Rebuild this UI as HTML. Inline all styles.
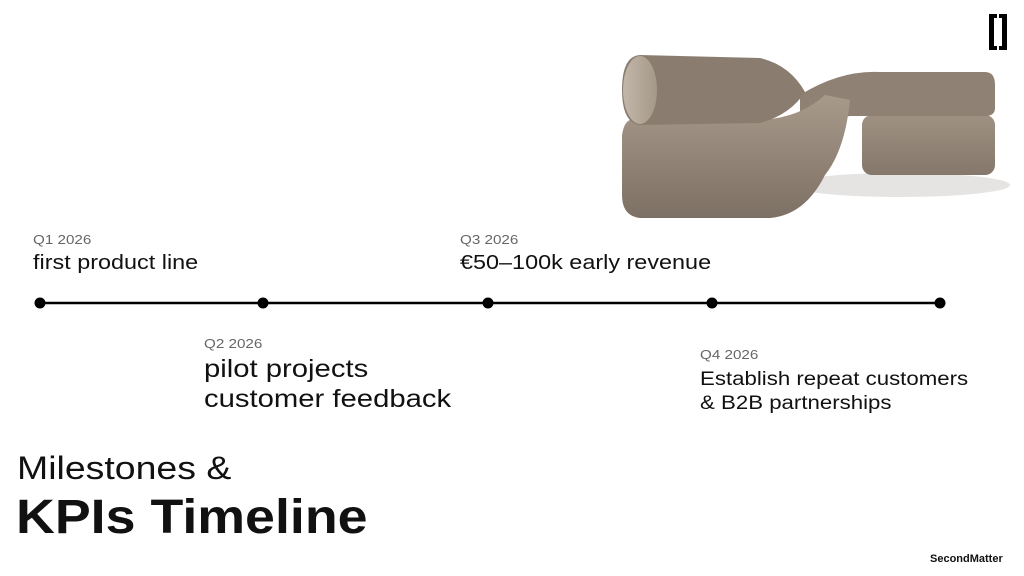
<!DOCTYPE html>
<html><head><style>
body{margin:0;width:1024px;height:576px;background:#fff;position:relative;overflow:hidden;font-family:"Liberation Sans",sans-serif;color:#111}
.t{position:absolute;white-space:nowrap;transform-origin:0 0;transform:scaleX(1.17)}
.q{font-size:13px;color:#666}
</style></head><body>
<svg width="1024" height="576" style="position:absolute;left:0;top:0">
<defs>
<linearGradient id="g1" x1="0" y1="0" x2="0" y2="1"><stop offset="0" stop-color="#a89a8b"/><stop offset="1" stop-color="#7d7064"/></linearGradient>
<linearGradient id="g2" x1="0" y1="0" x2="0" y2="1"><stop offset="0" stop-color="#9e9182"/><stop offset="1" stop-color="#85786b"/></linearGradient>
<linearGradient id="g3" x1="0" y1="0" x2="1" y2="0"><stop offset="0" stop-color="#c2b7aa"/><stop offset="1" stop-color="#a59888"/></linearGradient>
</defs>
<ellipse cx="900" cy="185" rx="110" ry="12" fill="#e6e4e2"/>
<rect x="862" y="115" width="133" height="60" rx="10" fill="url(#g2)"/>
<path d="M800 95 Q840 70 880 72 L985 72 Q995 72 995 85 L995 108 Q995 116 985 116 L850 116 Q830 118 820 140 L800 140 Z" fill="#8f8274"/>
<path d="M630 120 L760 120 Q800 118 825 95 L850 100 Q845 150 825 175 Q805 215 770 218 L640 218 Q622 216 622 195 L622 135 Q624 122 630 120Z" fill="url(#g1)"/>
<path d="M640 55 L760 58 Q790 65 805 92 Q790 115 760 123 L640 125 Q622 123 622 90 Q622 56 640 55Z" fill="#8a7d70"/>
<ellipse cx="640" cy="90" rx="17" ry="34" fill="url(#g3)"/>
<line x1="40" y1="303" x2="940" y2="303" stroke="#000" stroke-width="2.5"/>
<g fill="#000"><circle cx="40" cy="303" r="5.5"/><circle cx="263" cy="303" r="5.5"/><circle cx="488" cy="303" r="5.5"/><circle cx="712" cy="303" r="5.5"/><circle cx="940" cy="303" r="5.5"/></g>
<rect x="989" y="14" width="5" height="36" fill="#000"/><rect x="989" y="14" width="8" height="4" fill="#000"/><rect x="989" y="46" width="8" height="4" fill="#000"/>
<rect x="1002" y="14" width="5" height="36" fill="#000"/><rect x="999" y="14" width="8" height="4" fill="#000"/><rect x="999" y="46" width="8" height="4" fill="#000"/>
</svg>
<div class="t q" style="left:33px;top:232px">Q1 2026</div>
<div class="t" style="left:33px;top:252px;font-size:20px">first product line</div>
<div class="t q" style="left:460px;top:232px">Q3 2026</div>
<div class="t" style="left:460px;top:252px;font-size:20px">€50–100k early revenue</div>
<div class="t q" style="left:204px;top:336px">Q2 2026</div>
<div class="t" style="left:204px;top:354px;font-size:25px;line-height:30px">pilot projects<br>customer feedback</div>
<div class="t q" style="left:700px;top:347px">Q4 2026</div>
<div class="t" style="left:700px;top:368px;font-size:19px;line-height:24px">Establish repeat customers<br>&amp; B2B partnerships</div>
<div class="t" style="left:17px;top:450px;font-size:32px">Milestones &amp;</div>
<div class="t" style="left:16px;top:490px;font-size:48px;font-weight:bold;transform:scaleX(1.12)">KPIs Timeline</div>
<div class="t" style="left:930px;top:553px;font-size:11px;font-weight:bold;transform:none">SecondMatter</div>
</body></html>
